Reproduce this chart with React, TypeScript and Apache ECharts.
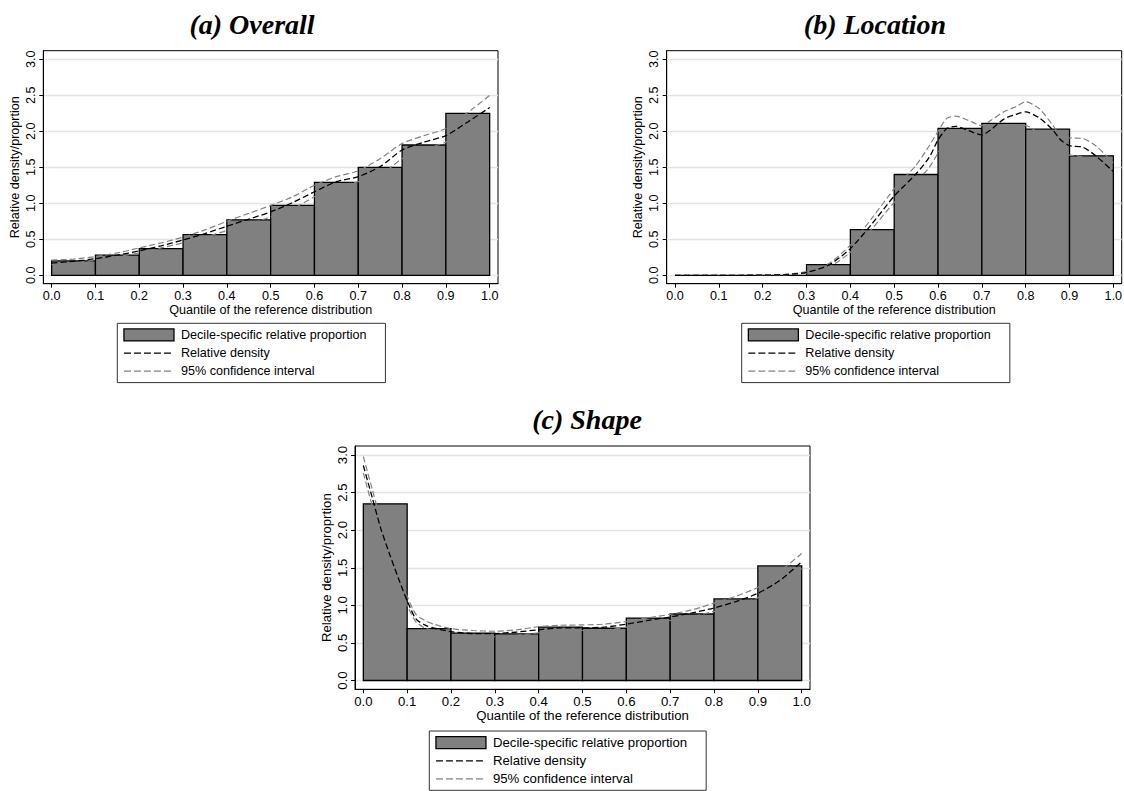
import React, { useEffect, useRef } from 'react';
import * as echarts from 'echarts';

const FONT = "'Liberation Sans', Arial, Helvetica, sans-serif";
const TITLE_FONT = "italic bold 28px 'Liberation Serif', 'Times New Roman', serif";

const BAR_NAME = 'Decile-specific relative proportion';
const DENS_NAME = 'Relative density';
const CI_NAME = '95% confidence interval';
const X_NAME = 'Quantile of the reference distribution';
const Y_NAME = 'Relative density/proprtion';

const binEdges = [0, 0.1, 0.2, 0.3, 0.4, 0.5, 0.6, 0.7, 0.8, 0.9, 1.0];
const xTicks = [0, 0.1, 0.2, 0.3, 0.4, 0.5, 0.6, 0.7, 0.8, 0.9, 1.0];
const yTicks = [0, 0.5, 1, 1.5, 2, 2.5, 3];

// (a) Overall
const overallBars = [0.2, 0.28, 0.37, 0.565, 0.77, 0.97, 1.29, 1.5, 1.81, 2.25];
const overallX = [0, 0.05, 0.1, 0.15, 0.2, 0.25, 0.3, 0.35, 0.4, 0.45, 0.5, 0.55, 0.6, 0.65, 0.7, 0.75, 0.8, 0.85, 0.9, 0.95, 1.0];
const overallDensity = [0.17, 0.195, 0.23, 0.28, 0.34, 0.41, 0.49, 0.58, 0.68, 0.78, 0.88, 1.01, 1.16, 1.3, 1.37, 1.51, 1.74, 1.85, 1.94, 2.13, 2.33];
const overallUpper = [0.21, 0.225, 0.26, 0.31, 0.38, 0.45, 0.53, 0.63, 0.75, 0.86, 0.97, 1.09, 1.25, 1.37, 1.45, 1.62, 1.83, 1.94, 2.04, 2.26, 2.5];
const overallLower = [0.15, 0.17, 0.21, 0.26, 0.31, 0.38, 0.45, 0.53, 0.62, 0.71, 0.81, 0.92, 1.09, 1.22, 1.3, 1.39, 1.62, 1.75, 1.85, 2.06, 2.22];

// (b) Location
const locationBars = [0, 0, 0, 0.148, 0.634, 1.4, 2.04, 2.11, 2.03, 1.66];
const locationX = [0, 0.05, 0.1, 0.15, 0.2, 0.25, 0.3, 0.35, 0.4, 0.45, 0.5, 0.55, 0.58, 0.6, 0.62, 0.64, 0.67, 0.7, 0.72, 0.75, 0.78, 0.8, 0.83, 0.86, 0.88, 0.9, 0.93, 0.96, 1.0];
const locationDensity = [0, 0, 0, 0, 0.002, 0.008, 0.04, 0.14, 0.37, 0.72, 1.1, 1.41, 1.64, 1.88, 2.04, 2.07, 2.01, 1.95, 2.02, 2.17, 2.24, 2.27, 2.19, 2.03, 1.88, 1.8, 1.78, 1.66, 1.44];
const locationUpper = [0, 0, 0, 0, 0.004, 0.012, 0.05, 0.16, 0.42, 0.8, 1.2, 1.53, 1.8, 2.0, 2.18, 2.21, 2.15, 2.08, 2.15, 2.27, 2.35, 2.41, 2.32, 2.1, 1.94, 1.91, 1.9, 1.8, 1.56];
const locationLower = [0, 0, 0, 0, 0.001, 0.005, 0.03, 0.11, 0.32, 0.65, 1.01, 1.3, 1.5, 1.7, 1.9, 1.94, 1.9, 1.83, 1.9, 1.99, 2.05, 2.08, 1.97, 1.78, 1.69, 1.67, 1.64, 1.5, 1.31];

// (c) Shape
const shapeBars = [2.35, 0.69, 0.63, 0.62, 0.71, 0.695, 0.83, 0.885, 1.085, 1.525];
const shapeX = [0, 0.02, 0.04, 0.06, 0.08, 0.1, 0.12, 0.14, 0.16, 0.2, 0.25, 0.3, 0.35, 0.4, 0.45, 0.5, 0.55, 0.6, 0.65, 0.7, 0.75, 0.8, 0.85, 0.9, 0.95, 1.0];
const shapeDensity = [2.86, 2.44, 2.02, 1.68, 1.36, 1.06, 0.82, 0.74, 0.7, 0.65, 0.625, 0.625, 0.645, 0.675, 0.7, 0.7, 0.71, 0.75, 0.8, 0.845, 0.9, 0.965, 1.05, 1.16, 1.33, 1.58];
const shapeUpper = [2.98, 2.55, 2.13, 1.78, 1.44, 1.12, 0.88, 0.8, 0.75, 0.69, 0.665, 0.655, 0.675, 0.715, 0.735, 0.74, 0.75, 0.785, 0.835, 0.88, 0.94, 1.03, 1.12, 1.24, 1.45, 1.69];
const shapeLower = [2.76, 2.33, 1.92, 1.58, 1.28, 1.0, 0.78, 0.7, 0.66, 0.615, 0.59, 0.585, 0.6, 0.635, 0.66, 0.665, 0.67, 0.71, 0.76, 0.8, 0.85, 0.92, 0.99, 1.1, 1.25, 1.49];

type Panel = {
  title: string;
  titleX: number;
  titleY: number;
  left: number;
  top: number;
  width: number;
  height: number;
  fontSize: number;
  bars: number[];
  xs: number[];
  dens: number[];
  up: number[];
  lo: number[];
  legendLeft: number;
  legendTop: number;
  legendPadRight: number;
};

const panels: Panel[] = [
  {
    title: '(a) Overall', titleX: 252, titleY: 24,
    left: 43.3, top: 50.7, width: 454.7, height: 233, fontSize: 12.6,
    bars: overallBars, xs: overallX, dens: overallDensity, up: overallUpper, lo: overallLower,
    legendLeft: 117.3, legendTop: 323.3, legendPadRight: 19,
  },
  {
    title: '(b) Location', titleX: 875, titleY: 24,
    left: 666.7, top: 50.7, width: 455, height: 233, fontSize: 12.6,
    bars: locationBars, xs: locationX, dens: locationDensity, up: locationUpper, lo: locationLower,
    legendLeft: 741.7, legendTop: 323.3, legendPadRight: 19,
  },
  {
    title: '(c) Shape', titleX: 587, titleY: 419,
    left: 355, top: 446, width: 455, height: 243.3, fontSize: 13.2,
    bars: shapeBars, xs: shapeX, dens: shapeDensity, up: shapeUpper, lo: shapeLower,
    legendLeft: 429.3, legendTop: 731, legendPadRight: 19,
  },
];

function buildOption() {
  const grid: any[] = [];
  const xAxis: any[] = [];
  const yAxis: any[] = [];
  const series: any[] = [];
  const legend: any[] = [];
  const graphic: any[] = [];

  panels.forEach((p, i) => {
    const txt = { fontSize: p.fontSize, color: '#000', fontFamily: FONT };
    grid.push({
      left: p.left, top: p.top, width: p.width, height: p.height,
      show: true, borderColor: '#000', borderWidth: 1, backgroundColor: '#fff',
      containLabel: false, outerBoundsMode: 'none',
    });
    xAxis.push({
      gridIndex: i, type: 'value', min: -0.019, max: 1.019,
      axisLine: { show: true, onZero: false, lineStyle: { color: '#000', width: 1 } },
      axisTick: { show: true, length: 4, customValues: xTicks, lineStyle: { color: '#000', width: 1 } },
      axisLabel: { show: true, customValues: xTicks, margin: 6, formatter: (v: number) => v.toFixed(1), ...txt },
      splitLine: { show: false },
      name: X_NAME, nameLocation: 'middle', nameGap: 19, nameTextStyle: txt,
    });
    yAxis.push({
      gridIndex: i, type: 'value', min: -0.117, max: 3.12,
      axisLine: { show: true, onZero: false, lineStyle: { color: '#000', width: 1 } },
      axisTick: { show: true, length: 4, customValues: yTicks, lineStyle: { color: '#000', width: 1 } },
      axisLabel: { show: true, customValues: yTicks, rotate: 90, margin: 6, formatter: (v: number) => v.toFixed(1), ...txt },
      splitLine: { show: true, lineStyle: { color: '#e4e4e4', width: 1.3 } },
      name: Y_NAME, nameLocation: 'middle', nameGap: 22, nameTextStyle: txt,
    });
    series.push({
      type: 'custom', name: BAR_NAME, xAxisIndex: i, yAxisIndex: i, silent: true, z: 2,
      itemStyle: { color: '#808080', borderColor: '#000', borderWidth: 1.3 },
      data: p.bars.map((v, k) => [binEdges[k], binEdges[k + 1], v]),
      encode: { x: [0, 1], y: 2 },
      renderItem: (params: any, api: any) => {
        const a = api.coord([api.value(0), api.value(2)]);
        const b = api.coord([api.value(1), 0]);
        return {
          type: 'rect',
          shape: { x: a[0], y: a[1], width: b[0] - a[0], height: b[1] - a[1] },
          style: { fill: '#808080', stroke: '#000', lineWidth: 1.3 },
        };
      },
    });
    const lineCommon = { type: 'line', xAxisIndex: i, yAxisIndex: i, symbol: 'none', showSymbol: false, smooth: 0.25, silent: true };
    series.push({
      ...lineCommon, name: CI_NAME, z: 3,
      data: p.xs.map((x, k) => [x, p.up[k]]),
      lineStyle: { color: '#828282', width: 1.2, type: [6, 3] },
    });
    series.push({
      ...lineCommon, name: CI_NAME, z: 3,
      data: p.xs.map((x, k) => [x, p.lo[k]]),
      lineStyle: { color: '#828282', width: 1.2, type: [6, 3] },
    });
    series.push({
      ...lineCommon, name: DENS_NAME, z: 4,
      data: p.xs.map((x, k) => [x, p.dens[k]]),
      lineStyle: { color: '#000', width: 1.3, type: [6, 3] },
    });
    legend.push({
      show: true, orient: 'vertical', left: p.legendLeft, top: p.legendTop,
      padding: [5, p.legendPadRight, 5, 6], itemGap: 5, itemWidth: 50, itemHeight: 12,
      borderColor: '#333', borderWidth: 1, backgroundColor: '#fff', selectedMode: false,
      textStyle: { ...txt, padding: [0, 0, 0, 2] },
      data: [
        { name: BAR_NAME, icon: 'rect', itemStyle: { color: '#808080', borderColor: '#000', borderWidth: 1.3 } },
        { name: DENS_NAME, itemStyle: { color: 'rgba(0,0,0,0)', borderWidth: 0 }, lineStyle: { color: '#000', width: 1.2, type: [7, 3] } },
        { name: CI_NAME, itemStyle: { color: 'rgba(0,0,0,0)', borderWidth: 0 }, lineStyle: { color: '#828282', width: 1.2, type: [7, 3] } },
      ],
    });
    graphic.push({
      type: 'text', x: p.titleX, y: p.titleY, silent: true,
      style: { text: p.title, font: TITLE_FONT, fill: '#000', align: 'center', verticalAlign: 'middle', textAlign: 'center', textVerticalAlign: 'middle' },
    });
  });

  return {
    animation: false,
    backgroundColor: '#fff',
    grid, xAxis, yAxis, series, legend, graphic,
    tooltip: { show: false },
  };
}

export default function App() {
  const ref = useRef<HTMLDivElement>(null);
  useEffect(() => {
    if (!ref.current) return;
    const chart = echarts.init(ref.current, null, { renderer: 'svg' });
    chart.setOption(buildOption() as any);
    return () => chart.dispose();
  }, []);
  return (
    <div
      ref={ref}
      style={{ position: 'absolute', left: 0, top: 0, width: 1124, height: 791, background: '#fff' }}
    />
  );
}
